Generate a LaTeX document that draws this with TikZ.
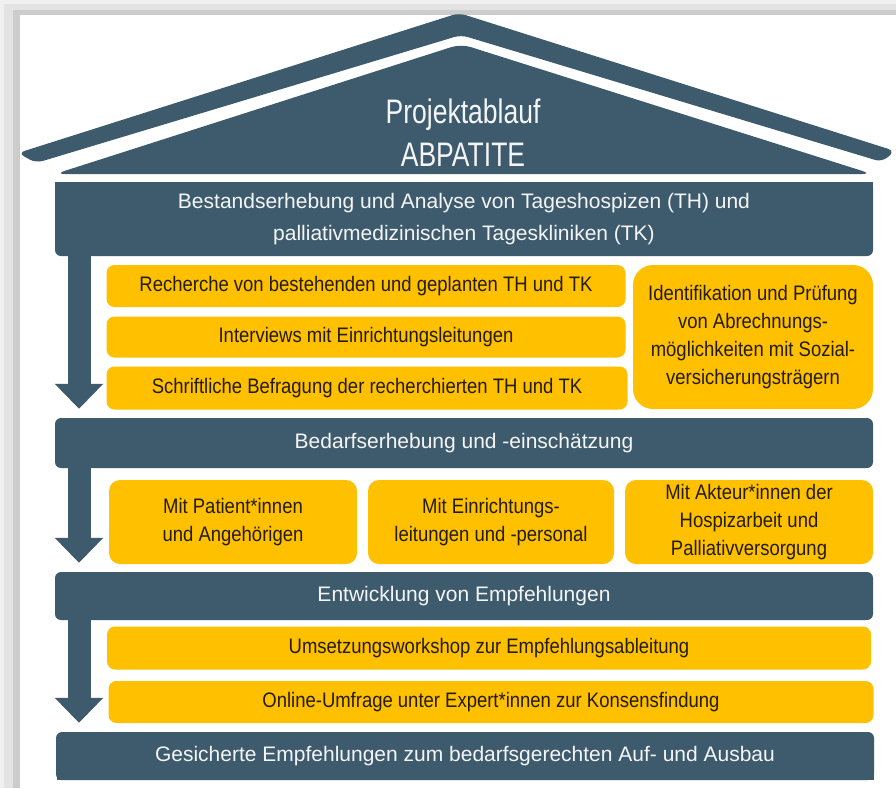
\documentclass[tikz,border=0pt]{standalone}
\usepackage{fontspec}
\setmainfont{Liberation Sans}[FakeStretch=0.88]
\newfontfamily\barfont{Liberation Sans}
\newfontfamily\rooffont{Liberation Sans}[FakeStretch=0.78]
\usetikzlibrary{arrows.meta,positioning}

\definecolor{slate}{HTML}{3E5B6D}
\definecolor{gold}{HTML}{FFC000}
\definecolor{ink}{HTML}{231C0A}

\begin{document}
\begin{tikzpicture}[
  x=1pt, y=-1pt,
  bar/.style={fill=slate, text=white!94!slate, rounded corners=6pt, align=center,
    inner sep=0pt, minimum width=818pt, font=\barfont\fontsize{21}{32}\selectfont},
  task/.style={fill=gold, text=ink, rounded corners=8pt, align=center,
    inner sep=0pt, font=\fontsize{21}{28}\selectfont},
  flow/.style={draw=slate, line width=23pt, -{Triangle[width=47pt,length=25pt]},
    shorten >=9pt}
]
\useasboundingbox (0,0) rectangle (896,788);

% frame with shadow
\fill[gray!12] (0,0) rectangle (896,788);
\fill[gray!22] (4,4) rectangle (896,788);
\fill[gray!40] (13,10) rectangle (896,788);
\fill[white] (20,15) rectangle (896,788);

% roof
\fill[slate, rounded corners=7pt] (18,153) -- (459,13) -- (895,151) -- (882,162)
  -- (461,35) -- (36,163) -- cycle;
\fill[slate, rounded corners=10pt] (55,174) -- (461,44) -- (872,174) -- cycle;
\node[text=white!94!slate, align=center, font=\rooffont\fontsize{34}{43}\selectfont]
  (title) at (463,133) {Projektablauf\\ABPATITE};

% square top of the first bar and foot of the last one
\fill[slate] (55,182) rectangle (873,195);
\fill[slate] (56.5,768) rectangle (873.5,780);

% phases
\node[bar, minimum height=74pt] (bestand) at (464,219)
  {Bestandserhebung und Analyse von Tageshospizen (TH) und\\palliativmedizinischen Tageskliniken (TK)};
\node[bar, minimum height=50pt] (bedarf) at (464,443) {Bedarfserhebung und -einschätzung};
\node[bar, minimum height=48pt] (entwicklung) at (464,596) {Entwicklung von Empfehlungen};
\node[bar, minimum height=48pt] (ergebnis) at (465,756)
  {Gesicherte Empfehlungen zum bedarfsgerechten Auf- und Ausbau};

% tasks of phase 1
\node[task, minimum width=519pt, minimum height=42pt] (recherche) at (366,286)
  {Recherche von bestehenden und geplanten TH und TK};
\node[task, minimum width=519pt, minimum height=41pt] (interviews) at (366,337)
  {Interviews mit Einrichtungsleitungen};
\node[task, minimum width=521pt, minimum height=43pt] (befragung) at (367,388)
  {Schriftliche Befragung der recherchierten TH und TK};
\node[task, rounded corners=20pt, minimum width=240pt, minimum height=144pt] (abrechnung) at (753,337)
  {Identifikation und Prüfung\\von Abrechnungs-\\möglichkeiten mit Sozial-\\versicherungsträgern};

% tasks of phase 2
\node[task, rounded corners=11pt, minimum width=248pt, minimum height=84pt] (patienten) at (233,522)
  {Mit Patient*innen\\und Angehörigen};
\node[task, rounded corners=11pt, minimum width=246pt, minimum height=84pt] (personal) at (491,522)
  {Mit Einrichtungs-\\leitungen und -personal};
\node[task, rounded corners=11pt, minimum width=248pt, minimum height=84pt] (akteure) at (749,522)
  {Mit Akteur*innen der\\Hospizarbeit und\\Palliativversorgung};

% tasks of phase 3
\node[task, minimum width=764pt, minimum height=43pt] (workshop) at (489,648)
  {Umsetzungsworkshop zur Empfehlungsableitung};
\node[task, minimum width=765pt, minimum height=42pt] (umfrage) at (491,702)
  {Online-Umfrage unter Expert*innen zur Konsensfindung};

% arrows down the left side
\coordinate (ax) at (79,0);
\draw[flow] (bestand.south -| ax) -- (bedarf.north -| ax);
\draw[flow] (bedarf.south -| ax) -- (entwicklung.north -| ax);
\draw[flow] (entwicklung.south -| ax) -- (ergebnis.north -| ax);

\end{tikzpicture}
\end{document}
